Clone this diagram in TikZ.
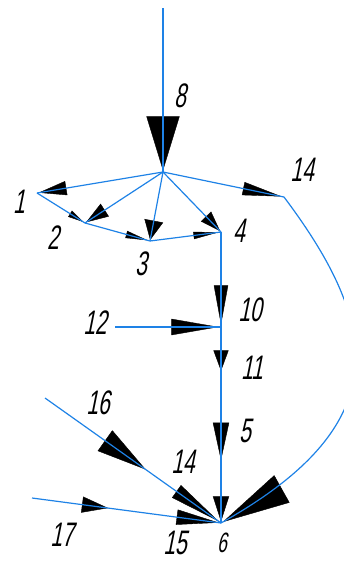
\documentclass[tikz,border=0pt]{standalone}
\usepackage{fontspec}
\newfontfamily\gostfont[FakeStretch=0.62,FakeSlant=0.2]{Liberation Sans}
\usetikzlibrary{arrows.meta,decorations.markings}
\definecolor{flowblue}{RGB}{30,130,230}

\begin{document}
\begin{tikzpicture}[
    x=1pt, y=-1pt,
    flow/.style={draw=flowblue, line width=1.2pt},
    flowhead/.style n args={3}{preaction={decorate, decoration={markings,
        mark=at position #1 with {\arrow{Triangle[length=#2pt,width=#3pt,color=black,fill=black]}}}}},
    lbl/.style={font=\gostfont\fontsize{34}{34}\selectfont, inner sep=0pt},
    lblsmall/.style={font=\gostfont\fontsize{28}{28}\selectfont, inner sep=0pt}
]
\useasboundingbox (0,0) rectangle (343,562);

% points of the scheme
\coordinate (top) at (163,8);
\coordinate (hub) at (163,172);
\coordinate (p1) at (37,193);
\coordinate (p2) at (85,223);
\coordinate (p3) at (150,241);
\coordinate (p4) at (221,232);
\coordinate (p14) at (284,197);
\coordinate (p10) at (221,327);
\coordinate (p12) at (115,327);
\coordinate (p6) at (221,523);
\coordinate (p16) at (45,398);
\coordinate (p17) at (32,498);

% labels
\node[lbl] (l8) at (180,96) {8};
\node[lbl] (l1) at (19,202) {1};
\node[lbl] (l2) at (53,238) {2};
\node[lbl] (l3) at (141,264) {3};
\node[lbl] (l4) at (239,231) {4};
\node[lbl] (l14a) at (302,170) {14};
\node[lbl] (l10) at (250,310) {10};
\node[lbl] (l12) at (95,323) {12};
\node[lbl] (l11) at (252,368) {11};
\node[lbl] (l5) at (245,431) {5};
\node[lbl] (l16) at (98,403) {16};
\node[lbl] (l14b) at (183,462) {14};
\node[lbl] (l17) at (62,535) {17};
\node[lbl] (l15) at (175,543) {15};
\node[lblsmall] (l6) at (222,543) {6};

% fan from the top
\draw[flow, flowhead={1}{56}{34}] (top) -- (hub);
\draw[flow, flowhead={1}{30}{15}] (hub) -- (p1);
\draw[flow, flowhead={1}{24}{16}] (hub) -- (p2);
\draw[flow, flowhead={1}{21}{20}] (hub) -- (p3);
\draw[flow, flowhead={1}{22}{15}] (hub) -- (p4);
\draw[flow, flowhead={1}{42}{14}] (hub) -- (p14);
\draw[flow, flowhead={1}{18}{8}] (p1) -- (p2);
\draw[flow, flowhead={1}{25}{8}] (p2) -- (p3);
\draw[flow, flowhead={1}{28}{8}] (p3) -- (p4);

% vertical line down to 6
\draw[flow, flowhead={1}{42}{15}] (p4) -- (p10);
\draw[flow, flowhead={1}{50}{17}] (p12) -- (p10);
\draw[flow, flowhead={0.23}{22}{16}, flowhead={0.69}{40}{17},
    flowhead={1}{27}{17}] (p10) -- (p6);

% side inputs to 6
\draw[flow, flowhead={0.58}{52}{26}, flowhead={1}{55}{16}] (p16) -- (p6);
\draw[flow, flowhead={0.41}{28}{17}, flowhead={1}{45}{16}] (p17) -- (p6);
\draw[flow, flowhead={0.9995}{70}{32}] (p14) .. controls (380,325) and (398,424) .. (p6);

\end{tikzpicture}
\end{document}
